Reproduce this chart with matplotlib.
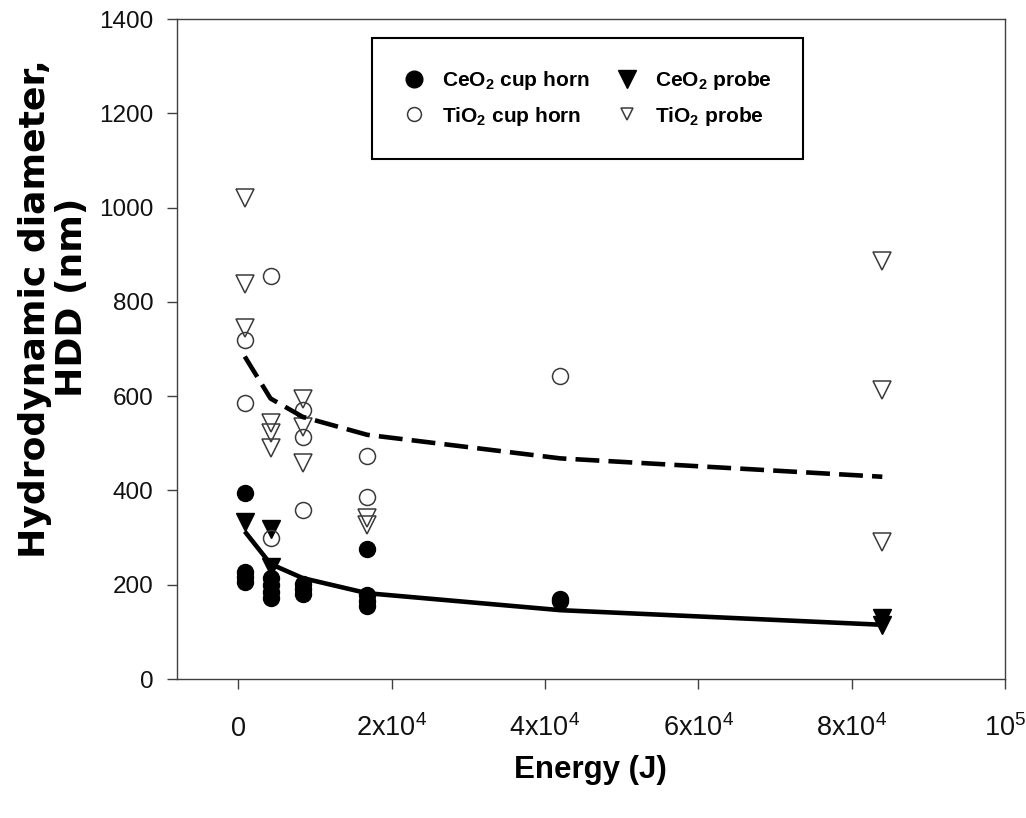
import matplotlib
matplotlib.use("Agg")
import matplotlib.pyplot as plt
from matplotlib.lines import Line2D

plt.rcParams['font.family'] = ['Liberation Sans', 'DejaVu Sans']
plt.rcParams['mathtext.fontset'] = 'custom'
plt.rcParams['mathtext.rm'] = 'Liberation Sans'
plt.rcParams['mathtext.bf'] = 'Liberation Sans:bold'
plt.rcParams['mathtext.it'] = 'Liberation Sans:italic'

# Delivered sonication energy (J) at which the fitted curves are evaluated
energy_levels = [840, 4200, 8400, 16800, 42000, 84000]

# CeO2, cup horn
ceo2_cup_energy = [840, 840, 840, 840, 4200, 4200, 4200, 4200,
                   8400, 8400, 8400, 16800, 16800, 16800, 16800, 42000, 42000]
ceo2_cup_hdd = [395, 228, 217, 205, 215, 200, 185, 172,
                202, 190, 180, 276, 178, 165, 155, 170, 165]

# CeO2, probe
ceo2_probe_energy = [840, 4200, 4200, 84000, 84000]
ceo2_probe_hdd = [333, 318, 238, 130, 115]

# TiO2, cup horn
tio2_cup_energy = [840, 840, 4200, 4200, 8400, 8400, 8400, 16800, 16800, 42000]
tio2_cup_hdd = [720, 585, 855, 299, 571, 514, 359, 472, 387, 643]

# TiO2, probe
tio2_probe_energy = [840, 840, 840, 4200, 4200, 4200, 8400, 8400, 8400,
                     16800, 16800, 84000, 84000, 84000]
tio2_probe_hdd = [1021, 837, 745, 543, 522, 489, 594, 535, 458,
                  342, 327, 887, 612, 291]

# Fitted trend curves at each energy level
ceo2_fit = [313, 244, 214, 182, 146, 115]
tio2_fit = [684, 595, 556, 518, 468, 429]

x_ticks = [0, 20000, 40000, 60000, 80000, 100000]
x_tick_labels = ['0', r'2x10$^{4}$', r'4x10$^{4}$', r'6x10$^{4}$', r'8x10$^{4}$', r'10$^{5}$']
y_ticks = [0, 200, 400, 600, 800, 1000, 1200, 1400]

W, H = 1026, 818
fig = plt.figure(figsize=(W / 100, H / 100), dpi=100)
ax = fig.add_axes([177 / W, 1 - 679 / H, (1005 - 177) / W, (679 - 19) / H])

edge = '#3a3a3a'
ax.plot(ceo2_cup_energy, ceo2_cup_hdd, linestyle='none', marker='o', ms=11.5,
        mfc='black', mec='black', mew=1, zorder=3)
ax.plot(ceo2_probe_energy, ceo2_probe_hdd, linestyle='none', marker='v', ms=13,
        mfc='black', mec='black', mew=1, zorder=3)
ax.plot(tio2_cup_energy, tio2_cup_hdd, linestyle='none', marker='o', ms=11.5,
        mfc='none', mec=edge, mew=1.1, zorder=4)
ax.plot(tio2_probe_energy, tio2_probe_hdd, linestyle='none', marker='v', ms=13,
        mfc='none', mec=edge, mew=1.1, zorder=4)

ax.plot(energy_levels, ceo2_fit, color='black', lw=3.3, solid_capstyle='butt', zorder=5)
ax.plot(energy_levels, tio2_fit, color='black', lw=3.3, dashes=(5.2, 2.0), zorder=5)

ax.set_xlim(-8000, 100000)
ax.set_ylim(0, 1400)
ax.set_xticks(x_ticks)
ax.set_xticklabels(x_tick_labels, va='baseline')
ax.set_yticks(y_ticks)

for s in ax.spines.values():
    s.set_color('#404040')
    s.set_linewidth(1.0)
ax.tick_params(axis='both', direction='out', length=7, width=1.0, color='#404040',
               labelcolor='#111111')
ax.tick_params(axis='x', pad=34, labelsize=19.5)
ax.tick_params(axis='y', pad=10, labelsize=17.5)

fig.text(590 / W, 1 - 770 / H, 'Energy (J)', ha='center', va='center',
         fontsize=22.5, fontweight='bold')

# Two-line rotated y-axis title, each line placed by its baseline
ylab_font = dict(fontsize=26, fontweight='bold', family=['DejaVu Sans'],
                 rotation=90, rotation_mode='anchor', ha='center', va='baseline')
fig.text(45 / W, 1 - 309 / H, 'Hydrodynamic diameter,', **ylab_font)
fig.text(82 / W, 1 - 297 / H, 'HDD (nm)', **ylab_font)

handles = [
    Line2D([], [], linestyle='none', marker='o', ms=12, mfc='black', mec='black'),
    Line2D([], [], linestyle='none', marker='o', ms=10, mfc='none', mec=edge, mew=1.1),
    Line2D([], [], linestyle='none', marker='v', ms=12.5, mfc='black', mec='black'),
    Line2D([], [], linestyle='none', marker='v', ms=9, mfc='none', mec=edge, mew=1.1),
]
labels = [r'CeO$_{\mathbf{2}}$ cup horn', r'TiO$_{\mathbf{2}}$ cup horn',
          r'CeO$_{\mathbf{2}}$ probe', r'TiO$_{\mathbf{2}}$ probe']
leg = ax.legend(handles, labels, ncol=2, loc='upper left',
                bbox_to_anchor=(372 / W, 1 - 38 / H), bbox_transform=fig.transFigure,
                prop={'weight': 'bold', 'size': 15}, frameon=True, fancybox=False,
                borderpad=1.5, handlelength=1.0, handletextpad=0.85,
                columnspacing=1.3, labelspacing=0.6, borderaxespad=0)
fr = leg.get_frame()
fr.set_edgecolor('black')
fr.set_linewidth(1.5)
fr.set_facecolor('white')
fr.set_alpha(1)

fig.savefig('out.png', dpi=100)
